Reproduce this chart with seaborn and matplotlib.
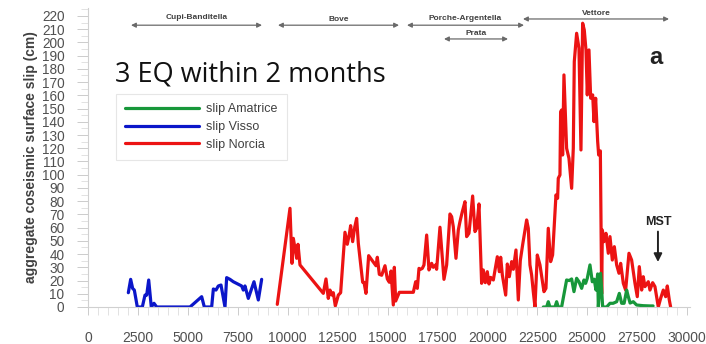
import matplotlib
matplotlib.use("Agg")
import matplotlib.pyplot as plt
import seaborn as sns
import pandas as pd
from matplotlib.ticker import MultipleLocator
from matplotlib.lines import Line2D

sns.set_theme(style="white")
plt.rcParams['font.family'] = ['Liberation Sans', 'DejaVu Sans']

# distance along the fault system (m) and coseismic slip (cm)
visso_x = [2020, 2137, 2237, 2320, 2470, 2720, 2855, 2940, 3040, 3170, 3305, 3440,
           5108, 5693, 5826, 6193, 6278, 6410, 6527, 6661, 6861, 6944, 7111, 7278,
           7695, 7778, 7862, 8029, 8313, 8530, 8697]
visso_y = [10.8, 20.9, 14, 12.8, 0, 0, 9, 9, 20.4, 0, 2.8, 0,
           0, 7.8, 0, 0, 13.6, 12.8, 15.9, 16.6, 0, 22.2, 20.9, 19.1,
           15.9, 12.8, 15.9, 6.5, 19.1, 5.3, 20.9]

norcia_x = [9480, 10116, 10216, 10283, 10367, 10450, 10517, 10617, 11785, 11919,
            12034, 12119, 12219, 12286, 12386, 12536, 12653, 12870, 12986, 13087,
            13154, 13254, 13354, 13455, 13538, 13756, 13823, 13922, 14056, 14423,
            14490, 14590, 14708, 14874, 14991, 15091, 15175, 15291, 15342, 15409,
            15592, 16293, 16410, 16494, 16577, 16660, 16744, 16827, 16961, 17077,
            17210, 17294, 17411, 17461, 17628, 17828, 17962, 18129, 18212, 18295,
            18429, 18546, 18629, 18746, 18880, 18963, 19080, 19164, 19264, 19381,
            19464, 19581, 19714, 19798, 19898, 19998, 20083, 20167, 20300, 20500,
            20600, 20668, 20751, 20919, 21001, 21101, 21219, 21302, 21434, 21551,
            21650, 21768, 21968, 22051, 22134, 22218, 22301, 22385, 22502, 22636,
            22736, 22836, 22936, 23052, 23169, 23269, 23437, 23520, 23553, 23637,
            23670, 23720, 23770, 23837, 23887, 23970, 24088, 24222, 24305, 24355,
            24472, 24589, 24689, 24773, 24855, 24940, 25006, 25090, 25176, 25276,
            25341, 25425, 25526, 25576, 25660, 25726, 25760, 25842, 25942, 26058,
            26142, 26259, 26360, 26477, 26593, 26677, 26810, 26927, 27093, 27227,
            27394, 27510, 27610, 27729, 27810, 27894, 28061, 28145, 28279, 28395,
            28562, 28679, 28812, 28930, 29013, 29113, 29180]
norcia_y = [2, 74.6, 33, 51.9, 44.4, 36.8, 47.4, 31.8, 10.3, 21.2,
            6.5, 12.8, 9, 10.8, 0.8, 9, 10.8, 56.5, 47.4, 55,
            61.5, 49.4, 60, 67, 48.2, 18.7, 18.7, 10.3, 38.8, 31.2,
            37.6, 24.7, 24, 31.2, 21.2, 18.7, 27.2, 1.5, 30, 4.5,
            11.1, 11.1, 19.1, 14.1, 29.2, 28.5, 29.2, 31.8, 54.4, 28,
            33, 30, 31.8, 28.5, 60.3, 20.9, 31.8, 70.3, 68.3, 60.7,
            36.8, 58.2, 64.5, 72, 79.6, 53.2, 55.7, 68.8, 83.9, 57,
            59.5, 77.9, 17.9, 28, 18.4, 26.7, 17.4, 22.4, 20.4, 38,
            26.7, 37.6, 24.2, 9, 32.5, 22.9, 34.3, 28.5, 43.1, 5.3,
            35, 47, 65.8, 59.5, 31.8, 24.2, 11.6, 0, 39.3, 31.8,
            21.7, 11.6, 14.1, 59.5, 34.3, 39.3, 84.7, 82.2, 97.3, 99.8,
            147.6, 148.9, 114.9, 175.4, 155.2, 120, 112.4, 89.7, 120, 185.5,
            206.9, 195.6, 118.7, 214.5, 209.4, 194.3, 160.3, 194.3, 157.8, 160.3,
            140.1, 157.8, 125, 114.9, 118, 10, 58.2, 49.4, 55.7, 40.6,
            53.2, 35.5, 45.6, 31.8, 25.5, 33, 17.9, 12.8, 40.6, 35.5,
            17.9, 7.8, 30.5, 12.8, 22.9, 15.4, 19.1, 12.8, 18.4, 15.4,
            0, 6.5, 12.8, 7.8, 15.9, 5.3, 0]

amatrice_x = [22803, 22970, 23052, 23136, 23387, 23471, 23553, 23720, 23970, 24100,
              24222, 24339, 24472, 24589, 24723, 24839, 24922, 25006, 25140, 25256,
              25350, 25442, 25526, 25559, 25676, 25776, 25975, 26142, 26300, 26477,
              26610, 26727, 26850, 26977, 27060, 27150, 27310, 27477, 27800, 28145,
              28300]
amatrice_y = [0, 0, 4, 0, 0, 4, 0, 0, 20.4, 20,
              21.2, 11.6, 21.7, 19.1, 14.1, 20.4, 17.9, 21.7, 31.8, 19.1,
              21, 12.8, 25, 0, 25.5, 0, 0, 2.8, 2.8, 4,
              10.3, 2.8, 2.8, 12.8, 7.8, 3, 4, 1.5, 1, 0.8,
              0.8]

series_labels = ["slip Amatrice", "slip Visso", "slip Norcia"]
series_colors = {"slip Amatrice": "#17973a", "slip Visso": "#0b16c9", "slip Norcia": "#ec1313"}

# fault segments: name, start, end, arrow level, label level
segment_names = ["Cupi-Banditella", "Bove", "Porche-Argentella", "Prata", "Vettore"]
segment_start = [2154, 9516, 15977, 17830, 21786]
segment_end = [8714, 15576, 21836, 21035, 29098]
segment_level = [213, 213, 213, 202.6, 217.7]
segment_label_level = [218.5, 217.5, 218, 206.8, 222]

frames = [
    pd.DataFrame({"distance": visso_x, "slip": visso_y, "event": "slip Visso"}),
    pd.DataFrame({"distance": norcia_x, "slip": norcia_y, "event": "slip Norcia"}),
    pd.DataFrame({"distance": amatrice_x, "slip": amatrice_y, "event": "slip Amatrice"}),
]

fig = plt.figure(figsize=(7.06, 3.44), dpi=100)
ax = fig.add_axes([88 / 706, 37 / 344, 602 / 706, 299 / 344])

for df in frames:
    sns.lineplot(data=df, x="distance", y="slip", color=series_colors[df["event"].iloc[0]],
                 linewidth=2.3, sort=False, estimator=None, ax=ax, legend=False)

ax.set_xlim(0, 30150)
ax.set_ylim(0, 226)
ax.xaxis.set_major_locator(MultipleLocator(2500))
ax.xaxis.set_minor_locator(MultipleLocator(500))
ax.yaxis.set_major_locator(MultipleLocator(10))
ax.yaxis.set_minor_locator(MultipleLocator(5))

for side in ["top", "right"]:
    ax.spines[side].set_visible(False)
for side in ["left", "bottom"]:
    ax.spines[side].set_color("#d0d0d0")
    ax.spines[side].set_linewidth(0.8)

ax.tick_params(axis="x", which="major", bottom=True, length=6, width=0.7, color="#cccccc",
               pad=11, labelsize=10, labelcolor="#505050")
ax.tick_params(axis="x", which="minor", bottom=True, length=6, width=0.6, color="#dddddd")
ax.tick_params(axis="y", which="major", left=True, length=8, width=0.7, color="#cccccc",
               pad=9, labelsize=9.8, labelcolor="#505050")
ax.tick_params(axis="y", which="minor", left=True, length=5, width=0.6, color="#dddddd")

ax.set_xlabel("")
ax.set_ylabel("aggregate coseismic surface slip (cm)", fontsize=10, fontweight="bold",
              color="#404040", labelpad=3)

handles = [Line2D([], [], color=series_colors[s], linewidth=2.3) for s in series_labels]
leg = ax.legend(handles, series_labels, loc="upper left", bbox_to_anchor=(0.0465, 0.712),
                borderaxespad=0, frameon=True, fancybox=False, fontsize=9,
                handlelength=5.9, handletextpad=0.55, labelspacing=0.45, borderpad=0.75)
leg.get_frame().set_edgecolor("#e0e0e0")
leg.get_frame().set_linewidth(0.8)
for t in leg.get_texts():
    t.set_color("#404040")

for name, x0, x1, lvl, tl in zip(segment_names, segment_start, segment_end,
                                 segment_level, segment_label_level):
    ax.annotate("", xy=(x0, lvl), xytext=(x1, lvl),
                arrowprops=dict(arrowstyle="<|-|>", color="#6a6a6a", lw=0.9,
                                mutation_scale=7, shrinkA=0, shrinkB=0))
    ax.text((x0 + x1) / 2, tl, name, ha="center", va="center", fontsize=6,
            fontweight="bold", color="#404040")

ax.text(0.045, 0.776, "3 EQ within 2 months", transform=ax.transAxes, ha="left",
        va="center", fontsize=19.5, family=["Open Sans", "DejaVu Sans"], color="#111111")
ax.text(0.943, 0.836, "a", transform=ax.transAxes, ha="center", va="center",
        fontsize=17, fontweight="bold", color="#222222")

ax.annotate("", xy=(28545, 34), xytext=(28545, 57),
            arrowprops=dict(arrowstyle="-|>", color="#222222", lw=1.4, mutation_scale=12,
                            shrinkA=0, shrinkB=0))
ax.text(28545, 64, "MST", ha="center", va="center", fontsize=9, fontweight="bold",
        color="#222222")

fig.savefig("out.png", dpi=100)
